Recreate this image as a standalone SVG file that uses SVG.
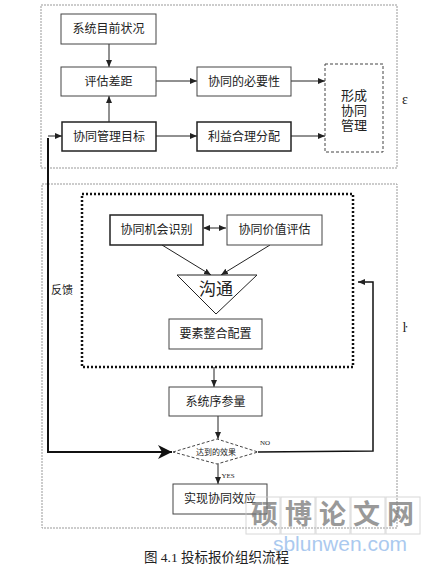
<svg xmlns="http://www.w3.org/2000/svg" width="435" height="569" viewBox="0 0 435 569">
<defs>
<style>
.t{font-family:"Liberation Serif","Noto Sans CJK SC",serif;fill:#222;text-anchor:middle;dominant-baseline:central}
.box{fill:#fff;stroke:#444;stroke-width:1}
.thick{fill:#fff;stroke:#222;stroke-width:1.5}
.ln{fill:none;stroke:#222;stroke-width:1}
.outer{fill:none;stroke:#999;stroke-width:1;stroke-dasharray:2,1}
</style>
<marker id="ah" markerWidth="8" markerHeight="8" refX="7" refY="4" orient="auto" markerUnits="userSpaceOnUse">
<path d="M0,1 L7,4 L0,7 Z" fill="#222"/>
</marker>
<marker id="ahs" markerWidth="8" markerHeight="8" refX="1" refY="4" orient="auto" markerUnits="userSpaceOnUse">
<path d="M7,1 L0,4 L7,7 Z" fill="#222"/>
</marker>
<marker id="big" markerWidth="16" markerHeight="14" refX="14" refY="7" orient="auto" markerUnits="userSpaceOnUse">
<path d="M0,0 L14,7 L0,14 L4,7 Z" fill="#111"/>
</marker>
</defs>
<rect width="435" height="569" fill="#fff"/>

<g id="frames">
<rect class="outer" x="41" y="5" width="356" height="163"/>
<rect class="outer" x="42" y="184" width="355" height="344"/>
<rect x="82" y="194" width="271" height="173" fill="none" stroke="#111" stroke-width="2.5" stroke-dasharray="2,2"/>
<text class="t" x="405" y="99" font-size="14">ε</text>
<text class="t" x="405" y="327" font-size="14">ŀ</text>
</g>

<g id="connectors">
<line class="ln" x1="109" y1="44" x2="109" y2="67" marker-end="url(#ah)"/>
<line class="ln" x1="109" y1="122" x2="109" y2="96" marker-end="url(#ah)"/>
<line class="ln" x1="156" y1="81" x2="197" y2="81" marker-end="url(#ah)"/>
<line class="ln" x1="291" y1="81" x2="325" y2="81" marker-end="url(#ah)"/>
<line class="ln" x1="156" y1="136" x2="197" y2="136" marker-end="url(#ah)"/>
<line class="ln" x1="291" y1="136" x2="325" y2="136" marker-end="url(#ah)"/>
<line class="ln" x1="204" y1="228" x2="226" y2="228" marker-start="url(#ahs)" marker-end="url(#ah)"/>
<line class="ln" x1="162" y1="245" x2="211" y2="275" marker-end="url(#ah)"/>
<line class="ln" x1="270" y1="245" x2="221" y2="275" marker-end="url(#ah)"/>
<line class="ln" x1="214" y1="367" x2="214" y2="387" marker-end="url(#ah)"/>
<line class="ln" x1="218" y1="416" x2="218" y2="439" marker-end="url(#ah)"/>
<line class="ln" x1="218" y1="464" x2="218" y2="484" marker-end="url(#ah)"/>
<polyline fill="none" stroke="#111" stroke-width="2" points="48,138 48,452 172,452" marker-end="url(#big)"/>
<polyline class="ln" points="48,136 62,136" marker-end="url(#ah)"/>
<polyline fill="none" stroke="#111" stroke-width="1.5" points="258,452 373,451 373,282 358,282" marker-end="url(#ah)"/>
<text class="t" x="62" y="290" font-size="11">反馈</text>
<text class="t" x="265" y="443" font-size="7">NO</text>
<text class="t" x="228" y="476" font-size="7">YES</text>
</g>

<g id="n1"><rect class="box" x="61" y="14" width="95" height="30"/><text class="t" x="108.5" y="29" font-size="12">系统目前状况</text></g>
<g id="n2"><rect class="box" x="61" y="67" width="95" height="29"/><text class="t" x="108.5" y="81.5" font-size="12">评估差距</text></g>
<g id="n3"><rect class="thick" x="62" y="122" width="94" height="29"/><text class="t" x="109" y="136.5" font-size="12">协同管理目标</text></g>
<g id="n4"><rect class="box" x="197" y="67" width="94" height="29"/><text class="t" x="244" y="81.5" font-size="12">协同的必要性</text></g>
<g id="n5"><rect class="thick" x="197" y="122" width="94" height="29"/><text class="t" x="244" y="136.5" font-size="12">利益合理分配</text></g>
<g id="n6"><rect x="325" y="64" width="58" height="88" fill="#fff" stroke="#444" stroke-width="1" stroke-dasharray="3,2"/>
<text class="t" x="354" y="95" font-size="13">形成</text><text class="t" x="354" y="110" font-size="13">协同</text><text class="t" x="354" y="125" font-size="13">管理</text></g>
<g id="n7"><rect class="thick" x="110" y="215" width="93" height="30"/><text class="t" x="156.5" y="230" font-size="12">协同机会识别</text></g>
<g id="n8"><rect class="box" x="227" y="215" width="95" height="30"/><text class="t" x="274.5" y="230" font-size="12">协同价值评估</text></g>
<g id="n9"><polygon points="177,275 257,275 216,314" fill="#fff" stroke="#222" stroke-width="1"/><text class="t" x="216" y="289" font-size="17">沟通</text></g>
<g id="n10"><rect class="box" x="169" y="319" width="93" height="30"/><text class="t" x="215.5" y="334" font-size="12">要素整合配置</text></g>
<g id="n11"><rect class="box" x="169" y="387" width="93" height="29"/><text class="t" x="215.5" y="401.5" font-size="12">系统序参量</text></g>
<g id="n12"><polygon points="173,452 217,439 258,452 217,464" fill="#fff" stroke="#444" stroke-width="1" stroke-dasharray="3,2"/><text class="t" x="216" y="452" font-size="8">达到的效果</text></g>
<g id="n13"><rect class="box" x="173" y="484" width="94" height="30"/><text class="t" x="220" y="499" font-size="12">实现协同效应</text></g>

<g id="caption">
<text x="144" y="562" font-family="Liberation Serif,Noto Sans CJK SC,serif" font-size="13.5" fill="#222">图 4.1  投标报价组织流程</text>
</g>

<g id="watermark" opacity="0.75">
<g fill="none" stroke="#ccc" stroke-width="1">
<rect x="246" y="497" width="34" height="37"/><rect x="281" y="497" width="34" height="37"/><rect x="316" y="497" width="34" height="37"/><rect x="351" y="497" width="34" height="37"/><rect x="386" y="497" width="34" height="37"/>
</g>
<text x="336" y="524" font-family="Noto Sans CJK SC,sans-serif" font-weight="bold" font-size="27" fill="#777" text-anchor="middle" letter-spacing="7">硕博论文网</text>
<text x="340" y="551" font-family="Liberation Sans,sans-serif" font-size="21" fill="#8fb8ea" text-anchor="middle">sblunwen.com</text>
</g>
</svg>
